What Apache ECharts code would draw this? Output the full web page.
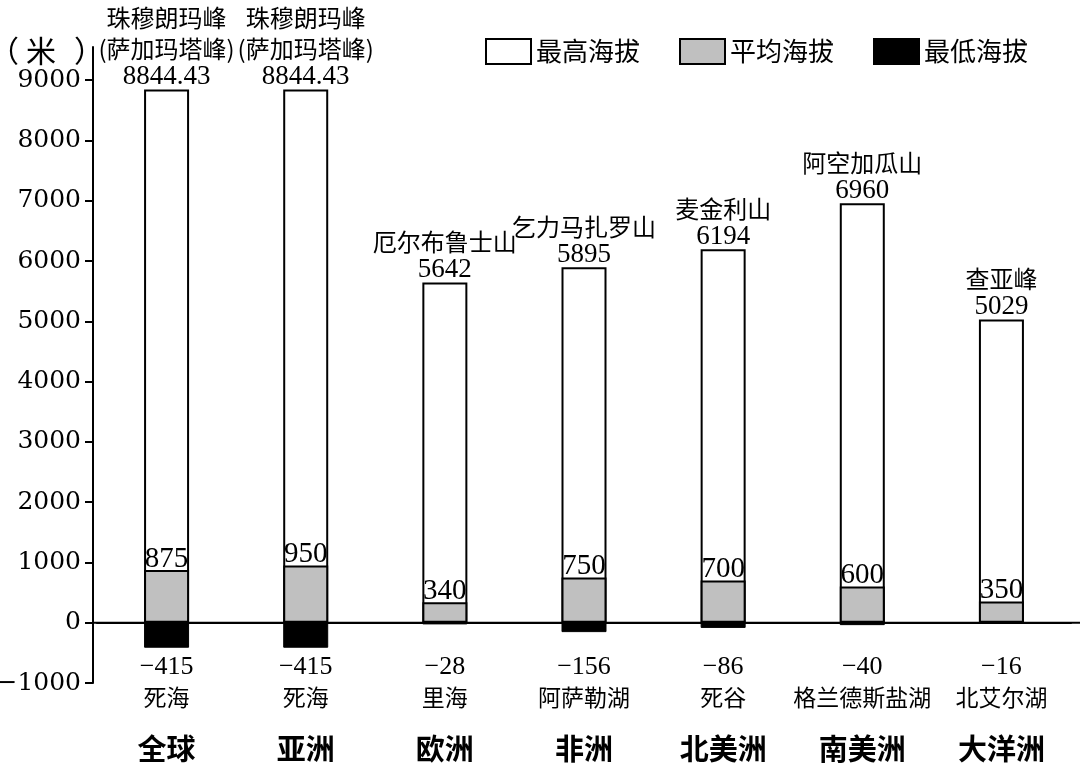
<!DOCTYPE html>
<html><head><meta charset="utf-8">
<script src="https://cdn.jsdelivr.net/npm/echarts@6/dist/echarts.min.js"></script>
<style>html,body{margin:0;padding:0;background:#fff}#c{width:1080px;height:769px}</style>
</head><body><div id="c"></div>
<script>
const categories = ['全球', '亚洲', '欧洲', '非洲', '北美洲', '南美洲', '大洋洲'];
const maxValues = [8844.43, 8844.43, 5642, 5895, 6194, 6960, 5029];
const maxLabels = ['8844.43', '8844.43', '5642', '5895', '6194', '6960', '5029'];
const maxNames = ['珠穆朗玛峰\n(萨加玛塔峰)', '珠穆朗玛峰\n(萨加玛塔峰)', '厄尔布鲁士山', '乞力马扎罗山', '麦金利山', '阿空加瓜山', '查亚峰'];
const avgValues = [875, 950, 340, 750, 700, 600, 350];
const minValues = [-415, -415, -28, -156, -86, -40, -16];
const minNames = ['死海', '死海', '里海', '阿萨勒湖', '死谷', '格兰德斯盐湖', '北艾尔湖'];
const yTicks = [-1000, 0, 1000, 2000, 3000, 4000, 5000, 6000, 7000, 8000, 9000];
const seriesNames = ['最高海拔', '平均海拔', '最低海拔'];
const unitParts = ['（', '米', '）'];

const SERIF = '"Liberation Serif", "Noto Sans CJK SC", serif';
const CJK = '"Noto Sans CJK SC", sans-serif';
const AXISNUM = '"DejaVu Serif", serif';

const chart = echarts.init(document.getElementById('c'), null, {renderer: 'canvas'});

const option = {
  backgroundColor: '#fff',
  animation: false,
  grid: {left: 97, right: 9, top: 47, bottom: 86, containLabel: false, outerBoundsMode: 'none'},
  legend: {
    left: 485, top: 38, padding: 0,
    itemWidth: 45, itemHeight: 25, itemGap: 39,
    icon: 'rect',
    textStyle: {fontFamily: CJK, fontSize: 26, color: '#000'},
    data: seriesNames
  },
  xAxis: {
    type: 'category',
    data: categories,
    axisLine: {show: true, onZero: true, lineStyle: {color: '#000', width: 2}},
    axisTick: {show: false},
    axisLabel: {
      interval: 0,
      margin: -31,
      hideOverlap: false,
      formatter: function (val, idx) {
        const v = String(minValues[idx]).replace('-', '−');
        return '{v|' + v + '}\n{n|' + minNames[idx] + '}\n{c|' + val + '}';
      },
      rich: {
        v: {fontFamily: SERIF, fontSize: 26, lineHeight: 30, color: '#000'},
        n: {fontFamily: CJK, fontSize: 23, lineHeight: 30, color: '#000'},
        c: {fontFamily: CJK, fontSize: 29, fontWeight: 'bold', lineHeight: 74, color: '#000'}
      }
    }
  },
  yAxis: {
    type: 'value',
    min: -1000, max: 9550, interval: 1000,
    offset: 4,
    splitLine: {show: false},
    axisLine: {show: true, lineStyle: {color: '#000', width: 2}},
    axisTick: {show: true, length: 8, lineStyle: {color: '#000', width: 2}, customValues: yTicks},
    axisLabel: {
      margin: 12, color: '#000', fontFamily: AXISNUM, fontSize: 25,
      customValues: yTicks,
      formatter: function (v) { return yTicks.indexOf(v) >= 0 ? String(v).replace('-', '−') : ''; }
    }
  },
  series: [
    {
      name: seriesNames[0], type: 'bar', data: maxValues, barWidth: 45, barGap: '-100%', z: 2,
      itemStyle: {color: '#fff', borderColor: '#000', borderWidth: 2},
      label: {
        show: true, position: 'top', distance: 0,
        formatter: function (p) {
          const lines = maxNames[p.dataIndex].split('\n').map(function (l) { return '{n|' + l + '}'; });
          return lines.join('\n') + '\n{v|' + maxLabels[p.dataIndex] + '}';
        },
        rich: {
          n: {fontFamily: CJK, fontSize: 24, lineHeight: 31, color: '#000'},
          v: {fontFamily: SERIF, fontSize: 27, lineHeight: 25, color: '#000'}
        }
      }
    },
    {
      name: seriesNames[1], type: 'bar', data: avgValues, barWidth: 45, barGap: '-100%', z: 3,
      itemStyle: {color: '#c0c0c0', borderColor: '#000', borderWidth: 2},
      label: {show: true, position: 'top', distance: -2, fontFamily: SERIF, fontSize: 29, lineHeight: 26, color: '#000'}
    },
    {
      name: seriesNames[2], type: 'bar', data: minValues, barWidth: 45, barGap: '-100%', z: 4,
      itemStyle: {color: '#000', borderColor: '#000', borderWidth: 1}
    }
  ]
};
chart.setOption(option);

const y0 = chart.convertToPixel({yAxisIndex: 0}, 0);
chart.setOption({
  graphic: [
    {type: 'line', z: 10, shape: {x1: 92, y1: y0, x2: 1080, y2: y0}, style: {stroke: '#000', lineWidth: 2}},
    {type: 'text', x: -14, y: 36, style: {
      text: '{a|' + unitParts[0] + '}{m|' + unitParts[1] + '}{b|' + unitParts[2] + '}',
      rich: {
        a: {fontFamily: 'Noto Sans CJK SC', fontSize: 30, fill: '#000', padding: [0, 7, 0, 3]},
        m: {fontFamily: 'Noto Sans CJK SC', fontSize: 30, fill: '#000'},
        b: {fontFamily: 'Noto Sans CJK SC', fontSize: 30, fill: '#000', padding: [0, 0, 0, 18]}
      }
    }}
  ]
});
</script></body></html>
